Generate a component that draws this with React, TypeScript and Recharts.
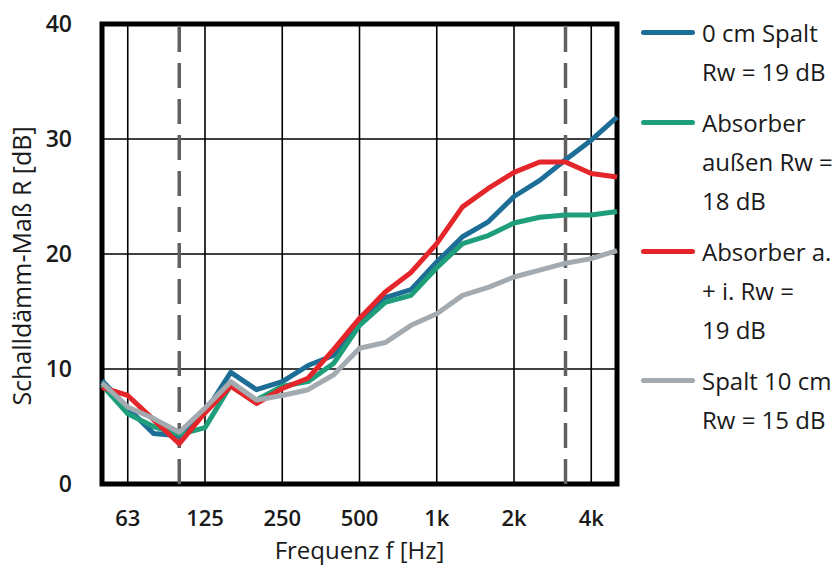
import React from 'react';
import { LineChart, Line, XAxis, YAxis, CartesianGrid, ReferenceLine, ReferenceArea, Legend, Label } from 'recharts';

// third-octave band centre frequencies (index = position on log axis)
const bands = ['50', '63', '80', '100', '125', '160', '200', '250', '315', '400', '500', '630', '800', '1k', '1.25k', '1.6k', '2k', '2.5k', '3.15k', '4k', '5k'];
const xTickIdx = [1, 4, 7, 10, 13, 16, 19];
const yTicks = [0, 10, 20, 30, 40];
const dashedIdx = [3, 18];

const spalt0 = [9.0, 6.6, 4.4, 4.2, 6.2, 9.7, 8.2, 8.9, 10.3, 11.2, 14.0, 16.2, 16.9, 19.3, 21.5, 22.8, 25.0, 26.4, 28.2, 29.9, 31.9];
const absAussen = [8.6, 6.1, 5.0, 4.3, 4.9, 8.6, 7.3, 8.5, 8.9, 10.5, 13.8, 15.8, 16.4, 18.8, 20.9, 21.6, 22.7, 23.2, 23.4, 23.4, 23.7];
const absAI = [8.4, 7.7, 5.6, 3.5, 6.2, 8.5, 7.0, 8.3, 9.2, 11.7, 14.4, 16.7, 18.4, 20.9, 24.1, 25.7, 27.1, 28.0, 28.0, 27.0, 26.7];
const spalt10 = [8.8, 6.7, 5.7, 4.5, 6.6, 8.9, 7.3, 7.7, 8.2, 9.5, 11.8, 12.3, 13.8, 14.8, 16.4, 17.1, 18.0, 18.6, 19.2, 19.6, 20.3];

const series = [
  { key: 's0', values: spalt0, color: '#1d6e96', lines: ['0 cm Spalt', 'Rw = 19 dB'] },
  { key: 'sA', values: absAussen, color: '#1f9e7c', lines: ['Absorber', 'außen Rw =', '18 dB'] },
  { key: 'sAI', values: absAI, color: '#e4262b', lines: ['Absorber a.', '+ i. Rw =', '19 dB'] },
  { key: 's10', values: spalt10, color: '#a4abb0', lines: ['Spalt 10 cm', 'Rw = 15 dB'] },
];

const data = bands.map((b, i) => {
  const row: Record<string, number | string> = { idx: i, band: b };
  series.forEach((s) => { row[s.key] = s.values[i]; });
  return row;
});

const FONT = '"Open Sans", "Noto Sans", sans-serif';

const LegendContent = () => (
  <div style={{ fontFamily: FONT, fontSize: 24, color: '#1a1a1a', lineHeight: '39px' }}>
    {series.map((s) => (
      <div key={s.key} style={{ display: 'flex', alignItems: 'flex-start', marginBottom: 12 }}>
        <div style={{ width: 54, height: 39, display: 'flex', alignItems: 'center', marginRight: 7, flexShrink: 0 }}>
          <div style={{ width: 54, height: 5, borderRadius: 3, background: s.color }} />
        </div>
        <div style={{ whiteSpace: 'nowrap' }}>
          {s.lines.map((l, j) => (<div key={j}>{l}</div>))}
        </div>
      </div>
    ))}
  </div>
);

export default function App() {
  return (
    <div style={{ position: 'absolute', left: 0, top: 0 }}>
      <LineChart width={840} height={566} data={data} margin={{ top: 24, right: 223, bottom: 0, left: 0 }}>
        <CartesianGrid stroke="#000" strokeWidth={1.6} horizontal vertical />
        <XAxis
          dataKey="idx"
          type="number"
          domain={[0, 20]}
          ticks={xTickIdx}
          tickFormatter={(v: number) => bands[v]}
          axisLine={false}
          tickLine={false}
          tickSize={0}
          tickMargin={26}
          height={82}
          tick={{ fill: '#1a1a1a', fontSize: 22, fontWeight: 600, fontFamily: FONT }}
        >
          <Label
            content={({ viewBox }: any) => (
              <text x={viewBox.x + viewBox.width / 2} y={viewBox.y + viewBox.height - 7} textAnchor="middle" fill="#1a1a1a" fontSize={24} fontFamily={FONT}>
                Frequenz f [Hz]
              </text>
            )}
          />
        </XAxis>
        <YAxis
          type="number"
          domain={[0, 40]}
          ticks={yTicks}
          axisLine={false}
          tickLine={false}
          tickSize={0}
          tickMargin={30}
          width={102}
          tick={{ fill: '#1a1a1a', fontSize: 23, fontWeight: 600, fontFamily: FONT }}
        >
          <Label
            content={({ viewBox }: any) => {
              const cx = 31;
              const cy = viewBox.y + viewBox.height / 2 + 12;
              return (
                <text x={cx} y={cy} transform={`rotate(-90, ${cx}, ${cy})`} textAnchor="middle" fill="#1a1a1a" fontSize={25} fontFamily={FONT}>
                  Schalldämm-Maß R [dB]
                </text>
              );
            }}
          />
        </YAxis>
        {dashedIdx.map((x) => (
          <ReferenceLine key={x} x={x} stroke="#606060" strokeWidth={3.5} strokeDasharray="25 11" />
        ))}
        {series.map((s) => (
          <Line key={s.key} dataKey={s.key} stroke={s.color} strokeWidth={5} dot={false} isAnimationActive={false} strokeLinejoin="round" />
        ))}
        <ReferenceArea x1={0} x2={20} y1={0} y2={40} fill="none" fillOpacity={0} stroke="#000" strokeWidth={5} strokeOpacity={1} />
        <Legend
          layout="horizontal"
          verticalAlign="middle"
          align="center"
          content={LegendContent}
          wrapperStyle={{ left: 641, top: 13, width: 199, height: 'auto' }}
        />
      </LineChart>
    </div>
  );
}
